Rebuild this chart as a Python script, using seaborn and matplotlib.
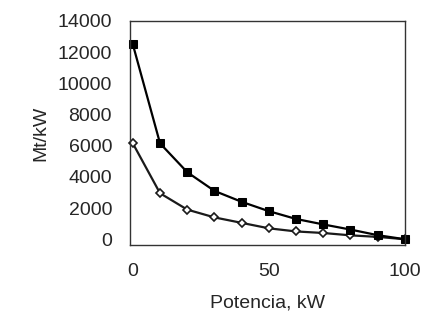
import matplotlib
matplotlib.use("Agg")
import matplotlib.pyplot as plt
import seaborn as sns

# values
potencia = [0, 10, 20, 30, 40, 50, 60, 70, 80, 90, 100]
serie_cuadros = [12500, 6150, 4300, 3100, 2400, 1800, 1300, 950, 620, 260, 0]
serie_rombos = [6150, 2950, 1900, 1400, 1050, 700, 500, 400, 250, 150, 0]

sns.set_style("white")
plt.rcParams['font.family'] = ['Liberation Sans', 'DejaVu Sans']

fig = plt.figure(figsize=(4.28, 3.23), dpi=100)
ax = fig.add_axes([0.304, 0.241, 0.642, 0.694])

sns.lineplot(x=potencia, y=serie_rombos, color='#1a1a1a', linewidth=1.6,
             marker='D', markersize=4, markerfacecolor='white',
             markeredgecolor='#1a1a1a', markeredgewidth=1.2,
             ax=ax, clip_on=False)
sns.lineplot(x=potencia, y=serie_cuadros, color='black', linewidth=1.6,
             marker='s', markersize=5.8, markeredgecolor='black',
             ax=ax, clip_on=False)

ax.set_xlim(-1, 98.5)
ax.set_ylim(-380, 14000)
ax.set_xticks([0, 50, 100])
ax.set_yticks(range(0, 14001, 2000))
ax.set_xlabel('Potencia, kW', fontsize=14, labelpad=10)
ax.set_ylabel('Mt/kW', fontsize=14, labelpad=6)
ax.tick_params(length=0, labelsize=14)
ax.tick_params(axis='x', pad=13)
ax.tick_params(axis='y', pad=13)
for sp in ax.spines.values():
    sp.set_color('#333333')
    sp.set_linewidth(1.0)

fig.savefig('out.png', dpi=100)
